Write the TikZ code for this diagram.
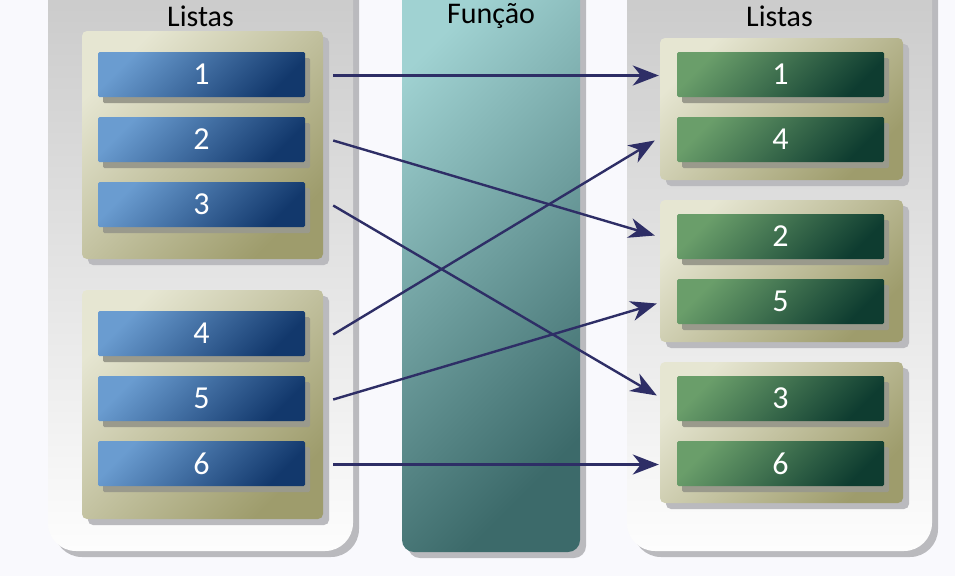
\documentclass[tikz,border=0pt]{standalone}
\usepackage{fontspec}
\setmainfont{Carlito}
\usetikzlibrary{arrows.meta,shadows}
\definecolor{bgc}{RGB}{249,249,253}
\definecolor{panTop}{RGB}{200,200,200}
\definecolor{panBot}{RGB}{253,253,253}
\definecolor{shd}{RGB}{186,186,190}
\definecolor{grpTL}{RGB}{230,230,210}
\definecolor{grpBR}{RGB}{158,156,108}
\definecolor{boxShd}{RGB}{154,154,140}
\definecolor{blueTL}{RGB}{106,156,208}
\definecolor{blueBR}{RGB}{18,56,108}
\definecolor{greenTL}{RGB}{106,158,106}
\definecolor{greenBR}{RGB}{14,60,48}
\definecolor{tealTL}{RGB}{160,210,210}
\definecolor{tealBR}{RGB}{60,106,106}
\definecolor{arrc}{RGB}{46,46,102}
\tikzset{
  panel/.style={rounded corners=28pt, top color=panTop, bottom color=panBot,
     general shadow={fill=shd, shadow xshift=6pt, shadow yshift=-6pt}},
  func/.style={rounded corners=12pt, top color=tealTL, bottom color=tealBR, shading angle=45,
     general shadow={fill=shd, shadow xshift=6pt, shadow yshift=-6pt}},
  grp/.style={rectangle, rounded corners=5pt, inner sep=0pt, minimum width=#1,
     top color=grpTL, bottom color=grpBR, shading angle=45,
     general shadow={fill=shd, shadow xshift=6pt, shadow yshift=-6pt}},
  item/.style={rectangle, rounded corners=1.5pt, inner sep=0pt, minimum width=207pt, minimum height=45pt,
     text=white, font=\fontsize{32}{34}\selectfont,
     general shadow={fill=boxShd, shadow xshift=5pt, shadow yshift=-6pt}},
  bluebox/.style={item, top color=blueTL, bottom color=blueBR, shading angle=45},
  greenbox/.style={item, top color=greenTL, bottom color=greenBR, shading angle=45},
  ttl/.style={font=\fontsize{30}{32}\selectfont, text=black, inner sep=0pt, anchor=base},
  arr/.style={draw=arrc, line width=2.4pt, -{Stealth[length=26pt, width=20pt, inset=8pt]}}
}
\begin{document}
\begin{tikzpicture}[x=1pt, y=-1pt]
\clip (0,0) rectangle (955,576);
\fill[bgc] (0,0) rectangle (955,576);
% outer panels
\path[panel] (48,-40) rectangle (353,551);
\path[panel] (627,-40) rectangle (932,551);
\path[func] (402,-40) rectangle (580,552);
% titles
\node[ttl] (tl) at (200.5,26) {Listas};
\node[ttl] (tf) at (491,23) {Função};
\node[ttl] (tr) at (779.5,26) {Listas};
% left groups
\node[grp=241pt, minimum height=228pt] (lg1) at (202.5,145) {};
\node[grp=241pt, minimum height=229pt] (lg2) at (202.5,404.5) {};
% right groups
\node[grp=243pt, minimum height=142pt] (rg1) at (781.5,109) {};
\node[grp=243pt, minimum height=142pt] (rg2) at (781.5,271) {};
\node[grp=243pt, minimum height=141pt] (rg3) at (781.5,432.5) {};
% left boxes
\node[bluebox] (l1) at (201.5,74.5) {1};
\node[bluebox] (l2) at (201.5,139.5) {2};
\node[bluebox] (l3) at (201.5,204.5) {3};
\node[bluebox] (l4) at (201.5,333.5) {4};
\node[bluebox] (l5) at (201.5,398.5) {5};
\node[bluebox] (l6) at (201.5,463.5) {6};
% right boxes
\node[greenbox] (r1) at (780.5,74.5) {1};
\node[greenbox] (r4) at (780.5,139.5) {4};
\node[greenbox] (r2) at (780.5,236.5) {2};
\node[greenbox] (r5) at (780.5,301.5) {5};
\node[greenbox] (r3) at (780.5,398.5) {3};
\node[greenbox] (r6) at (780.5,463.5) {6};
% arrows
\draw[arr] ([xshift=28pt,yshift=-1pt]l1.east) -- ([xshift=-18pt,yshift=-1pt]r1.west);
\draw[arr] ([xshift=28pt,yshift=-1pt]l2.east) -- ([xshift=-22pt,yshift=1pt]r2.west);
\draw[arr] ([xshift=28pt,yshift=-1pt]l3.east) -- ([xshift=-20pt,yshift=3pt]r3.west);
\draw[arr] ([xshift=28pt,yshift=-1pt]l4.east) -- ([xshift=-22pt,yshift=-1pt]r4.west);
\draw[arr] ([xshift=28pt,yshift=-1pt]l5.east) -- ([xshift=-20pt,yshift=-2pt]r5.west);
\draw[arr] ([xshift=28pt,yshift=-1pt]l6.east) -- ([xshift=-18pt,yshift=-1pt]r6.west);
\end{tikzpicture}
\end{document}
